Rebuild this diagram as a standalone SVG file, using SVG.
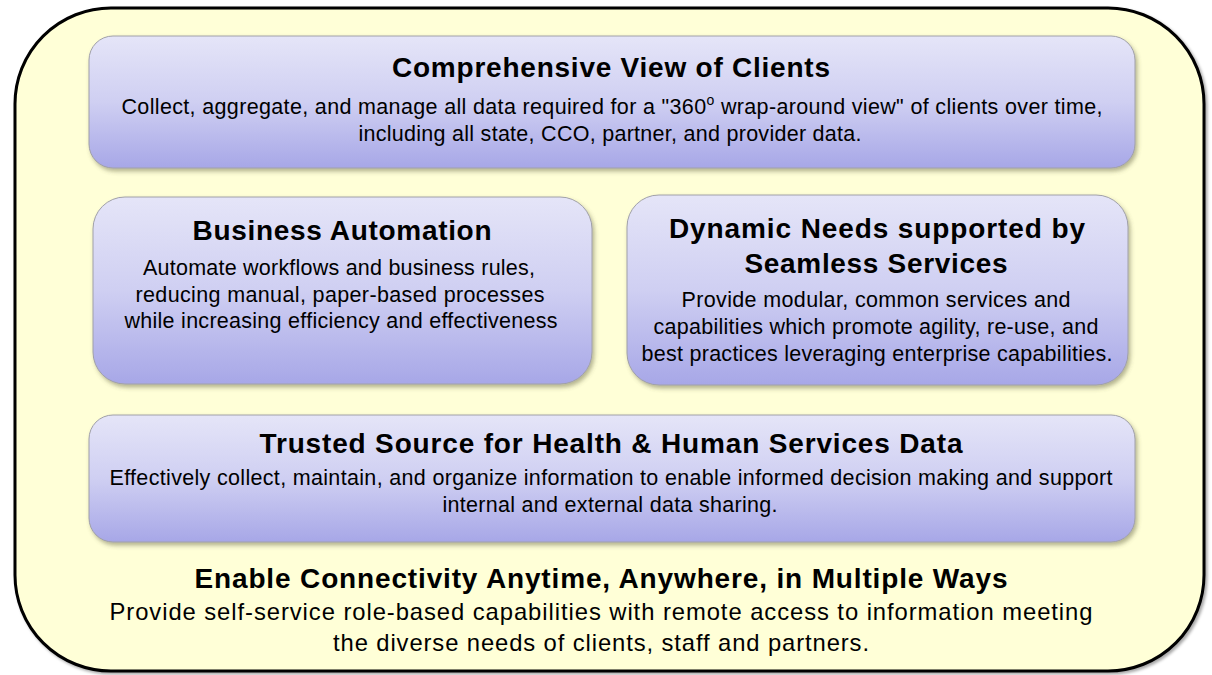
<svg xmlns="http://www.w3.org/2000/svg" width="1212" height="675" viewBox="0 0 1212 675">
  <defs>
    <linearGradient id="boxFill" x1="0" y1="0" x2="0" y2="1">
      <stop offset="0" stop-color="#e5e5f8"/>
      <stop offset="0.5" stop-color="#cfcff2"/>
      <stop offset="1" stop-color="#a7a7e7"/>
    </linearGradient>
    <filter id="softShadow" x="-5%" y="-10%" width="110%" height="125%">
      <feDropShadow dx="2" dy="3" stdDeviation="2" flood-color="#5a5a3a" flood-opacity="0.45"/>
    </filter>
    <filter id="outerShadow" x="-3%" y="-3%" width="106%" height="106%">
      <feDropShadow dx="2" dy="2" stdDeviation="1.5" flood-color="#000" flood-opacity="0.35"/>
    </filter>
  </defs>
  <style>
    .panel { fill: url(#boxFill); stroke: #a0a0a8; stroke-width: 1; filter: url(#softShadow); }
    .title { font-family: "Liberation Sans", Arial, sans-serif; font-weight: bold; font-size: 28px; fill: #000; text-anchor: middle; }
    .body { font-family: "Liberation Sans", Arial, sans-serif; font-size: 21.5px; fill: #000; text-anchor: middle; }
    .body-lg { font-family: "Liberation Sans", Arial, sans-serif; font-size: 23.8px; fill: #000; text-anchor: middle; }
  </style>

  <rect width="1212" height="675" fill="#ffffff"/>

  <!-- outer frame -->
  <g id="frame">
    <rect x="15" y="8" width="1189" height="663" rx="96" ry="96" fill="#ffffd7" stroke="#000" stroke-width="3" filter="url(#outerShadow)"/>
  </g>

  <g id="comprehensive-view">
    <rect class="panel" x="89" y="36" width="1046" height="132" rx="24" ry="24"/>
    <text class="title" x="611" y="77" textLength="438" lengthAdjust="spacing">Comprehensive View of Clients</text>
    <text class="body" x="612" y="114" textLength="981" lengthAdjust="spacing">Collect, aggregate, and manage all data required for a "360<tspan font-size="14" dy="-9">o</tspan><tspan dy="9"> wrap-around view" of clients over time,</tspan></text>
    <text class="body" x="610" y="141" textLength="503" lengthAdjust="spacing">including all state, CCO, partner, and provider data.</text>
  </g>

  <g id="business-automation">
    <rect class="panel" x="93" y="197" width="499" height="187" rx="32" ry="32"/>
    <text class="title" x="342" y="240" textLength="299" lengthAdjust="spacing">Business Automation</text>
    <text class="body" x="339" y="275" textLength="392" lengthAdjust="spacing">Automate workflows and business rules,</text>
    <text class="body" x="340" y="302" textLength="409" lengthAdjust="spacing">reducing manual, paper-based processes</text>
    <text class="body" x="341" y="328" textLength="433" lengthAdjust="spacing">while increasing efficiency and effectiveness</text>
  </g>

  <g id="dynamic-needs">
    <rect class="panel" x="627" y="195" width="501" height="190" rx="32" ry="32"/>
    <text class="title" x="877" y="238" textLength="416" lengthAdjust="spacing">Dynamic Needs supported by</text>
    <text class="title" x="876" y="273" textLength="263" lengthAdjust="spacing">Seamless Services</text>
    <text class="body" x="876" y="307" textLength="389" lengthAdjust="spacing">Provide modular, common services and</text>
    <text class="body" x="876" y="334" textLength="445" lengthAdjust="spacing">capabilities which promote agility, re-use, and</text>
    <text class="body" x="877" y="361" textLength="471" lengthAdjust="spacing">best practices leveraging enterprise capabilities.</text>
  </g>

  <g id="trusted-source">
    <rect class="panel" x="89" y="415" width="1046" height="127" rx="24" ry="24"/>
    <text class="title" x="611" y="453" textLength="703" lengthAdjust="spacing">Trusted Source for Health &amp; Human Services Data</text>
    <text class="body" x="611" y="485" textLength="1003" lengthAdjust="spacing">Effectively collect, maintain, and organize information to enable informed decision making and support</text>
    <text class="body" x="610" y="512" textLength="335" lengthAdjust="spacing">internal and external data sharing.</text>
  </g>

  <g id="connectivity">
    <text class="title" x="601" y="588" textLength="813" lengthAdjust="spacing">Enable Connectivity Anytime, Anywhere, in Multiple Ways</text>
    <text class="body-lg" x="601" y="620" textLength="983" lengthAdjust="spacing">Provide self-service role-based capabilities with remote access to information meeting</text>
    <text class="body-lg" x="601" y="651" textLength="536" lengthAdjust="spacing">the diverse needs of clients, staff and partners.</text>
  </g>

  <!-- no connectors in this figure -->
  <g id="connectors"/>
</svg>
